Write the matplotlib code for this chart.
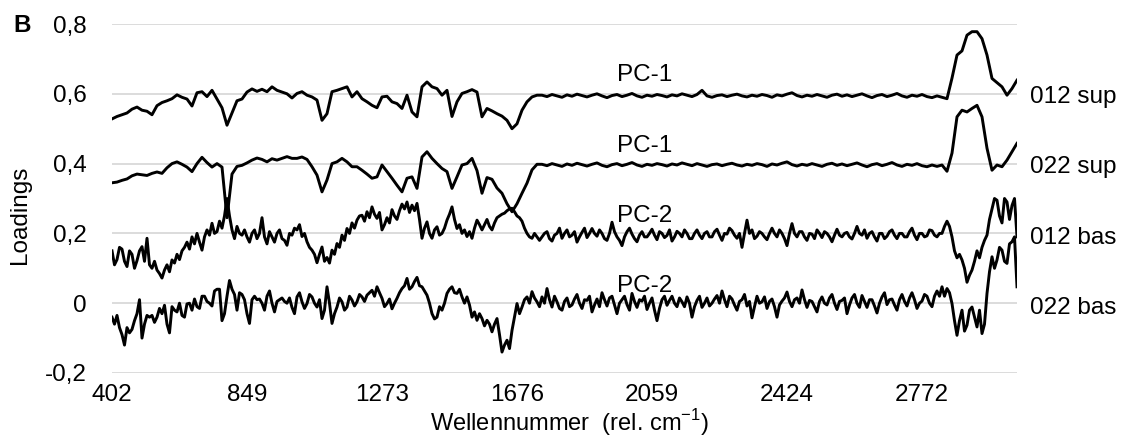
import numpy as np
import matplotlib
matplotlib.use("Agg")
import matplotlib.pyplot as plt
from matplotlib.ticker import FixedLocator, FuncFormatter

plt.rcParams['font.family'] = ['Liberation Sans', 'DejaVu Sans']
plt.rcParams['mathtext.fontset'] = 'custom'
plt.rcParams['mathtext.rm'] = 'Liberation Sans'

# Loadings along the spectral channels (offset-stacked for display).
# The "sup" series are sampled every channel, the noisier "bas" series
# every half channel; all four span the same channel range.
sup_012 = [
    0.528, 0.535, 0.54, 0.545, 0.556, 0.562, 0.553, 0.55, 0.54, 0.566,
    0.575, 0.58, 0.586, 0.597, 0.59, 0.585, 0.565, 0.603, 0.606, 0.592,
    0.61, 0.585, 0.56, 0.51, 0.545, 0.58, 0.585, 0.605, 0.614, 0.607,
    0.613, 0.606, 0.62, 0.61, 0.605, 0.6, 0.588,
    0.601, 0.606, 0.596, 0.591, 0.582, 0.524, 0.543, 0.606, 0.61, 0.615,
    0.62, 0.591, 0.606, 0.586, 0.577, 0.567, 0.56, 0.591, 0.593, 0.577,
    0.572, 0.558, 0.596, 0.548, 0.534, 0.62, 0.634, 0.62, 0.615, 0.596,
    0.61, 0.535, 0.577, 0.601, 0.606, 0.612,
    0.605, 0.534, 0.558, 0.551, 0.543, 0.536, 0.524, 0.5, 0.514, 0.553,
    0.577, 0.591, 0.596,
    0.596, 0.592, 0.598, 0.594, 0.59, 0.597, 0.593, 0.599, 0.595, 0.591,
    0.596, 0.6, 0.594, 0.589, 0.595, 0.598, 0.592, 0.596, 0.601, 0.594,
    0.59, 0.596, 0.593, 0.598, 0.595, 0.591, 0.597, 0.594, 0.6, 0.596,
    0.592, 0.598, 0.61, 0.594, 0.59, 0.595, 0.597, 0.592, 0.596, 0.599,
    0.594, 0.591, 0.596, 0.593, 0.598, 0.595, 0.59, 0.597, 0.594, 0.599,
    0.603, 0.595, 0.591, 0.596, 0.593, 0.598, 0.594, 0.59, 0.596, 0.599,
    0.593, 0.597, 0.592, 0.596, 0.6, 0.594, 0.589, 0.595, 0.598, 0.592,
    0.596, 0.601, 0.594, 0.59, 0.596, 0.593, 0.598, 0.592, 0.589, 0.594,
    0.59, 0.586, 0.645, 0.711, 0.723, 0.768, 0.778, 0.778, 0.758, 0.711,
    0.644, 0.632, 0.62, 0.596, 0.615, 0.639,
]

sup_022 = [
    0.345, 0.347, 0.352, 0.356, 0.365, 0.37, 0.368, 0.366, 0.372, 0.376,
    0.372, 0.388, 0.4, 0.405, 0.398, 0.39, 0.377, 0.4, 0.418, 0.403,
    0.39, 0.4, 0.39, 0.245, 0.37, 0.392, 0.395, 0.402, 0.41, 0.416,
    0.412, 0.405, 0.414, 0.41, 0.415, 0.42, 0.415,
    0.415, 0.419, 0.412, 0.391, 0.367, 0.319, 0.353, 0.4, 0.405, 0.415,
    0.405, 0.391, 0.391, 0.381, 0.37, 0.358, 0.362, 0.396, 0.377, 0.358,
    0.338, 0.319, 0.358, 0.362, 0.329, 0.419, 0.434, 0.415, 0.4, 0.386,
    0.377, 0.329, 0.362, 0.396, 0.4, 0.415,
    0.38, 0.315, 0.36, 0.355, 0.33, 0.315, 0.285, 0.262, 0.285, 0.315,
    0.344, 0.382, 0.398,
    0.398, 0.394, 0.4, 0.396, 0.392, 0.399, 0.395, 0.401, 0.397, 0.393,
    0.398, 0.402, 0.395, 0.391, 0.397, 0.4, 0.394, 0.398, 0.403, 0.396,
    0.392, 0.398, 0.395, 0.4, 0.397, 0.393, 0.399, 0.396, 0.402, 0.398,
    0.394, 0.4, 0.396, 0.392, 0.397, 0.399, 0.394, 0.398, 0.401, 0.396,
    0.393, 0.398, 0.395, 0.4, 0.397, 0.392, 0.399, 0.396, 0.401, 0.405,
    0.397, 0.393, 0.398, 0.395, 0.4, 0.396, 0.392, 0.398, 0.401, 0.395,
    0.399, 0.394, 0.398, 0.402, 0.396, 0.391, 0.397, 0.4, 0.394, 0.398,
    0.403, 0.396, 0.392, 0.398, 0.395, 0.4, 0.394, 0.391, 0.396, 0.392,
    0.396, 0.378, 0.43, 0.534, 0.553, 0.548, 0.558, 0.567, 0.534, 0.444,
    0.381, 0.396, 0.391, 0.41, 0.434, 0.458,
]

bas_012 = [
    0.15, 0.11, 0.125, 0.16, 0.155, 0.12, 0.105, 0.15, 0.14, 0.1,
    0.122, 0.15, 0.162, 0.12, 0.186, 0.11, 0.1, 0.12, 0.095, 0.085,
    0.072, 0.095, 0.11, 0.09, 0.124, 0.115, 0.14, 0.125, 0.15, 0.16,
    0.175, 0.155, 0.19, 0.17, 0.2, 0.175, 0.152, 0.19, 0.21, 0.195,
    0.229, 0.2, 0.205, 0.235, 0.215, 0.25, 0.30, 0.25, 0.21, 0.185,
    0.22, 0.2, 0.195, 0.21, 0.19, 0.175, 0.2, 0.21, 0.185, 0.2,
    0.245, 0.19, 0.17, 0.205, 0.19, 0.175, 0.2, 0.21, 0.185, 0.18,
    0.166, 0.2, 0.195,
    0.215, 0.21, 0.225, 0.191, 0.2, 0.176, 0.16, 0.152, 0.14, 0.116,
    0.14, 0.161, 0.12, 0.131, 0.115, 0.152, 0.14, 0.171, 0.16, 0.195,
    0.18, 0.214, 0.2, 0.23, 0.215, 0.238, 0.25, 0.252, 0.235, 0.262,
    0.245, 0.276, 0.255, 0.243, 0.26, 0.21, 0.225, 0.245, 0.23, 0.268,
    0.25, 0.24, 0.265, 0.284, 0.27, 0.29, 0.26, 0.281, 0.265, 0.286,
    0.24, 0.186, 0.215, 0.233, 0.2, 0.186, 0.21, 0.219, 0.195, 0.2,
    0.215, 0.238, 0.255, 0.276, 0.24, 0.214, 0.225, 0.2, 0.21, 0.191,
    0.205, 0.186, 0.215, 0.238, 0.225, 0.21, 0.225, 0.24, 0.22, 0.21,
    0.23, 0.245, 0.25, 0.255, 0.258, 0.265, 0.27, 0.272, 0.262, 0.25,
    0.245, 0.235, 0.215, 0.2, 0.19, 0.186, 0.2, 0.19, 0.18,
    0.19, 0.2, 0.205, 0.185, 0.178, 0.195, 0.2, 0.215, 0.186, 0.2,
    0.21, 0.19, 0.195, 0.205, 0.175, 0.19, 0.203, 0.215, 0.188, 0.2,
    0.214, 0.2, 0.192, 0.21, 0.2, 0.185, 0.18, 0.2, 0.232, 0.205,
    0.19, 0.18, 0.165, 0.19, 0.205, 0.215, 0.198, 0.185, 0.176, 0.195,
    0.205, 0.19, 0.19, 0.2, 0.212, 0.195, 0.182, 0.205, 0.2, 0.188,
    0.194, 0.21, 0.178, 0.19, 0.206, 0.2, 0.19, 0.21, 0.2, 0.185,
    0.185, 0.2, 0.21, 0.195, 0.185, 0.2, 0.205, 0.19, 0.19, 0.205,
    0.212, 0.195, 0.18, 0.2, 0.198, 0.215, 0.208, 0.195, 0.186, 0.2,
    0.16, 0.2, 0.238, 0.2, 0.21, 0.185, 0.192, 0.205, 0.2, 0.19,
    0.182, 0.2, 0.215, 0.2, 0.19, 0.21, 0.2, 0.185, 0.165, 0.2,
    0.228, 0.2, 0.19, 0.205, 0.205, 0.19, 0.18, 0.2, 0.198, 0.185,
    0.21, 0.2, 0.188, 0.205, 0.2, 0.19, 0.176, 0.195, 0.212, 0.195,
    0.19, 0.2, 0.203, 0.19, 0.184, 0.2, 0.22, 0.2, 0.195, 0.21,
    0.186, 0.2, 0.205, 0.19, 0.178, 0.2, 0.2, 0.185, 0.192, 0.205,
    0.21, 0.195, 0.185, 0.2, 0.2, 0.19, 0.19, 0.205, 0.215, 0.195,
    0.182, 0.2, 0.2, 0.19, 0.193, 0.21, 0.208, 0.195, 0.19, 0.2,
    0.2, 0.22, 0.235, 0.22, 0.19, 0.15, 0.13, 0.14, 0.124, 0.1,
    0.06, 0.08, 0.095, 0.12, 0.15, 0.13, 0.16, 0.18, 0.195, 0.24,
    0.27, 0.3, 0.295, 0.25, 0.23, 0.3, 0.29, 0.24, 0.28, 0.3,
    0.19,
]

bas_022 = [
    -0.04, -0.06, -0.035, -0.07, -0.09, -0.12, -0.07, -0.085, -0.075, -0.05,
    -0.03, 0.01, -0.1, -0.06, -0.035, -0.04, -0.035, -0.055, -0.04, -0.015,
    -0.03, -0.006, -0.06, -0.085, -0.01, -0.02, -0.025, 0.0, -0.035, -0.04,
    -0.002, 0.0, -0.02, 0.012, -0.01, -0.015, 0.02, 0.02, 0.005, 0.0,
    -0.008, 0.035, 0.04, 0.04, -0.05, -0.03, 0.02, 0.065, 0.04, 0.025,
    -0.02, 0.03, 0.025, 0.01, -0.03, -0.058, 0.01, 0.02, 0.01, 0.012,
    0.0, -0.02, 0.02, 0.035, 0.0, -0.025, 0.005, 0.01, 0.015, 0.005,
    0.0,
    0.015, -0.012, -0.03, 0.018, 0.03, 0.004, -0.015, -0.001, 0.025, 0.018,
    0.0, -0.011, 0.01, -0.044, -0.02, 0.047, 0.0, -0.058, -0.03, -0.011,
    0.015, 0.004, -0.02, -0.011, 0.02, 0.009, -0.008, 0.004, 0.025, 0.018,
    0.005, 0.023, 0.03, 0.037, 0.02, 0.047, 0.03, 0.014, -0.01, -0.001,
    0.012, -0.016, 0.0, 0.014, 0.03, 0.042, 0.05, 0.071, 0.04, 0.047,
    0.062, 0.074, 0.05, 0.047, 0.035, 0.023, 0.0, -0.03, -0.045, -0.04,
    -0.01, -0.02, 0.0, 0.028, 0.04, 0.047, 0.03, 0.028, 0.04, 0.018,
    0.0, 0.018, -0.005, -0.04, -0.025, -0.049, -0.03, -0.044, -0.065, -0.049,
    -0.06, -0.082, -0.06, -0.044, -0.09, -0.14, -0.12, -0.106, -0.13, -0.078,
    -0.04, -0.001, -0.03, -0.011, 0.01, 0.018, 0.0, 0.033, 0.015, 0.004,
    -0.01,
    0.018, 0.0, 0.042, 0.01, -0.011, 0.02, 0.004, -0.015, -0.02, 0.005,
    0.015, -0.01, -0.005, 0.012, 0.025, 0.0, -0.015, 0.01, 0.008, 0.02,
    -0.025, -0.005, 0.012, -0.01, 0.03, 0.01, -0.008, 0.015, 0.02, -0.005,
    -0.03, 0.0, 0.01, 0.02, -0.004, -0.02, 0.028, 0.005, -0.012, 0.01,
    0.006, 0.02, -0.018, 0.0, 0.015, -0.02, -0.05, -0.015, 0.01, 0.02,
    -0.006, 0.008, 0.02, 0.0, -0.01, 0.015, 0.004, -0.01, 0.018, 0.0,
    -0.04, -0.01, 0.008, 0.02, -0.012, 0.0, 0.015, -0.008, 0.0, 0.012,
    0.022, 0.0, 0.035, 0.01, -0.01, 0.02, 0.012, -0.005, -0.02, 0.005,
    0.01, 0.025, -0.008, 0.005, -0.042, -0.01, 0.02, 0.0, 0.004, 0.018,
    -0.015, 0.005, 0.012, -0.01, -0.04, -0.005, 0.006, 0.015, 0.032, 0.005,
    -0.01, 0.01, 0.015, 0.0, 0.038, 0.01, -0.012, 0.008, 0.005, -0.01,
    -0.025, 0.005, 0.018, 0.0, -0.005, 0.015, 0.025, 0.0, -0.018, 0.005,
    0.008, 0.015, -0.03, -0.005, 0.015, 0.025, 0.0, -0.012, 0.022, 0.005,
    -0.012, 0.01, 0.01, -0.008, -0.028, 0.0, 0.018, 0.03, -0.004, 0.01,
    0.012, -0.005, -0.02, 0.01, 0.025, 0.005, -0.008, 0.015, 0.03, 0.01,
    -0.015, 0.0, 0.006, 0.025, 0.02, 0.0, -0.01, 0.02, 0.035, 0.02,
    0.047, 0.02, 0.042, 0.03, -0.001, -0.05, -0.092, -0.05, -0.02, -0.08,
    -0.063, -0.02, -0.011, -0.04, -0.068, -0.02, -0.087, -0.06, 0.028, 0.09,
    0.133, 0.1, 0.124, 0.16, 0.152, 0.12, 0.114, 0.17, 0.176, 0.19,
    0.047,
]

series = [sup_012, sup_022, bas_012, bas_022]
series_names = ["012 sup", "022 sup", "012 bas", "022 bas"]
component_names = ["PC-1", "PC-1", "PC-2", "PC-2"]

wavenumber_labels = ["402", "849", "1273", "1676", "2059", "2424", "2772"]
label_step = 27  # channels between labelled wavenumbers

y_ticks = [-0.2, 0.0, 0.2, 0.4, 0.6, 0.8]

# text anchors
component_label_x = 106.6
component_label_y = [0.637, 0.432, 0.232, 0.032]
name_label_x = 183.6
name_label_y = [0.573, 0.372, 0.171, -0.03]

FS = 17.5

fig = plt.figure(figsize=(11.30, 4.43), dpi=100)
ax = fig.add_axes([112 / 1130, 70 / 443, 905 / 1130, 349 / 443])

channel_span = len(sup_012) - 1
for values in series:
    channel = np.linspace(0, channel_span, len(values))
    ax.plot(channel, values, color="black", lw=2.1, solid_joinstyle="round",
            zorder=3)

ax.set_xlim(0, channel_span)
ax.set_ylim(-0.2, 0.8)

ax.xaxis.set_major_locator(FixedLocator([i * label_step for i in range(len(wavenumber_labels))]))
ax.set_xticklabels(wavenumber_labels)
ax.yaxis.set_major_locator(FixedLocator(y_ticks))


def comma_fmt(v, _pos):
    if abs(v) < 1e-9:
        return "0"
    return f"{v:.1f}".replace(".", ",")


ax.yaxis.set_major_formatter(FuncFormatter(comma_fmt))
ax.tick_params(axis="both", length=0, labelcolor="black")
ax.tick_params(axis="y", pad=18, labelsize=FS)
ax.tick_params(axis="x", pad=8, labelsize=17.5)

ax.grid(axis="y", color="#d9d9d9", lw=1.3, zorder=0)
ax.grid(axis="x", visible=False)
for side in ("top", "right", "left", "bottom"):
    ax.spines[side].set_visible(False)

for name, yv in zip(component_names, component_label_y):
    ax.text(component_label_x, yv, name, ha="center", va="baseline",
            fontsize=FS, zorder=4)

for name, yv in zip(series_names, name_label_y):
    ax.text(name_label_x, yv, name, ha="left", va="baseline",
            fontsize=FS, clip_on=False)

fig.text(570 / 1130, 1 - 431 / 443, r"Wellennummer  (rel. cm$^{\mathregular{-1}}$)",
         ha="center", va="baseline", fontsize=17)
fig.text(20 / 1130, 1 - 215 / 443, "Loadings", rotation=90,
         ha="center", va="center", fontsize=FS)
fig.text(13 / 1130, 1 - 25 / 443, "B", ha="left", va="center",
         fontsize=FS, fontweight="bold")

fig.savefig("out.png", dpi=100, facecolor="white")
